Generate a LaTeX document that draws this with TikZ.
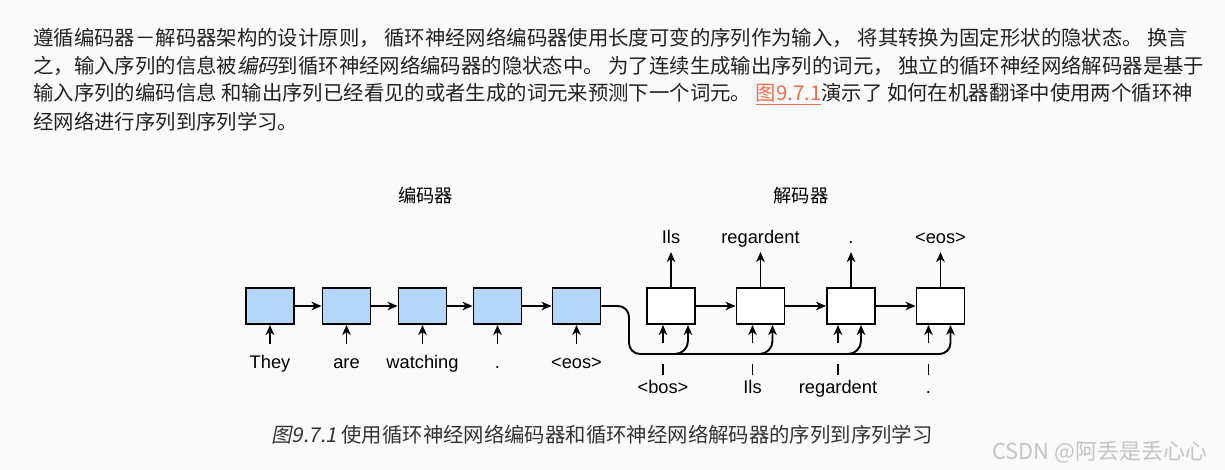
\documentclass[tikz,border=0pt]{standalone}
\usepackage{fontspec}
\setmainfont{Liberation Sans}
\newfontfamily\cjk{Noto Sans CJK SC}
\newfontfamily\cjkit[FakeSlant=0.2]{Noto Sans CJK SC}
\usetikzlibrary{arrows.meta, positioning, calc}
\definecolor{pagebg}{HTML}{FAFAFA}
\definecolor{encc}{HTML}{B3D7FA}
\definecolor{bodyc}{HTML}{222222}
\definecolor{linkc}{HTML}{F26B4B}
\definecolor{capc}{HTML}{333333}
\definecolor{markc}{HTML}{C4C4C4}
\tikzset{
  cell/.style={draw=black, line width=1.1pt, minimum width=0.96cm, minimum height=0.72cm, inner sep=0pt},
  enc/.style={cell, fill=encc},
  dec/.style={cell, fill=white},
  word/.style={font=\fontsize{10.4pt}{12pt}\selectfont, inner sep=0pt, text height=7.5pt, text depth=2.1pt, anchor=base},
  ttl/.style={font=\fontsize{10.4pt}{12pt}\cjk},
  para/.style={font=\fontsize{11.6pt}{13pt}\cjk, text=bodyc, anchor=west, inner sep=0pt},
  figcap/.style={font=\fontsize{11.6pt}{13pt}\cjk, text=capc, anchor=west, inner sep=0pt},
  wmark/.style={font=\fontsize{12.5pt}{14pt}\cjk, text=markc, anchor=west, inner sep=0pt},
  arr/.style={-{Stealth[length=2mm, width=1.7mm, inset=0.6mm]}, line width=1.1pt},
  gap/.style={dash pattern=on 0.22cm off 0.42cm on 3cm},
}

\begin{document}
\begin{tikzpicture}[x=0.02cm, y=-0.02cm]
\fill[pagebg] (0,0) rectangle (1225,470);
\useasboundingbox (0,0) rectangle (1225,470);

% ---------------- the paragraph above ----------------
\node[para] (p1) at (33,38) {遵循编码器－解码器架构的设计原则， 循环神经网络编码器使用长度可变的序列作为输入， 将其转换为固定形状的隐状态。 换言};
\node[para] (p2) at (33,66) {之，输入序列的信息被{\cjkit 编码}到循环神经网络编码器的隐状态中。 为了连续生成输出序列的词元， 独立的循环神经网络解码器是基于};
\node[para] (p3) at (33,94) {输入序列的编码信息 和输出序列已经看见的或者生成的词元来预测下一个词元。 {\color{linkc}\underline{图9.7.1}}演示了 如何在机器翻译中使用两个循环神};
\node[para] (p4) at (33,122) {经网络进行序列到序列学习。};

% ---------------- encoder ----------------
\node[ttl] (enct) at (425.5,196) {编码器};
\foreach \n/\x/\w in {1/270/They, 2/346.5/are, 3/422.5/watching, 4/497.5/., 5/576.5/<eos>} {
  \node[enc] (e\n) at (\x,306) {};
  \node[word] (ew\n) at (\x,368) {\w};
  \draw[arr, shorten <=0.2cm] (ew\n.north) -- (e\n.south);
}
\foreach \a/\b in {1/2, 2/3, 3/4, 4/5} {
  \draw[arr] (e\a.east) -- (e\b.west);
}

% ---------------- decoder ----------------
\node[ttl] (dect) at (801,196) {解码器};
\foreach \n/\x/\o/\l/\w in {1/671/Ils/-8/<bos>, 2/760.5/regardent/-8/Ils, 3/851/./-13/regardent, 4/940.5/<eos>/-12/.} {
  \pgfmathsetmacro\xl{\x+\l}
  \node[dec] (d\n) at (\x,306) {};
  \node[word] (do\n) at (\x,243) {\o};
  \draw[arr, shorten >=0.1cm] (d\n.north) -- (do\n.south);
  \node[word] (di\n) at (\xl,393) {\w};
  \draw[arr, gap, shorten <=0.08cm] (di\n.north) -- (di\n.north |- d\n.south);
}
\foreach \a/\b in {1/2, 2/3, 3/4} {
  \draw[arr] (d\a.east) -- (d\b.west);
}

% the state of the encoder goes to every step of the decoder
\coordinate (bend) at (629,354);
\draw[arr, rounded corners=0.22cm] (e5.east) -| (bend) -| ($(d4.south)+(10,0)$);
\foreach \n/\r in {1/17, 2/12, 3/10} {
  \draw[arr, rounded corners=0.26cm] ($(d\n.south |- bend)+(\r-16,0)$) -| ($(d\n.south)+(\r,0)$);
}

% ---------------- caption ----------------
\node[figcap] (figc) at (271,435) {{\cjkit 图9.7.1} 使用循环神经网络编码器和循环神经网络解码器的序列到序列学习};
\node[wmark] (wm) at (992,452) {CSDN @阿丢是丢心心};
\end{tikzpicture}
\end{document}
